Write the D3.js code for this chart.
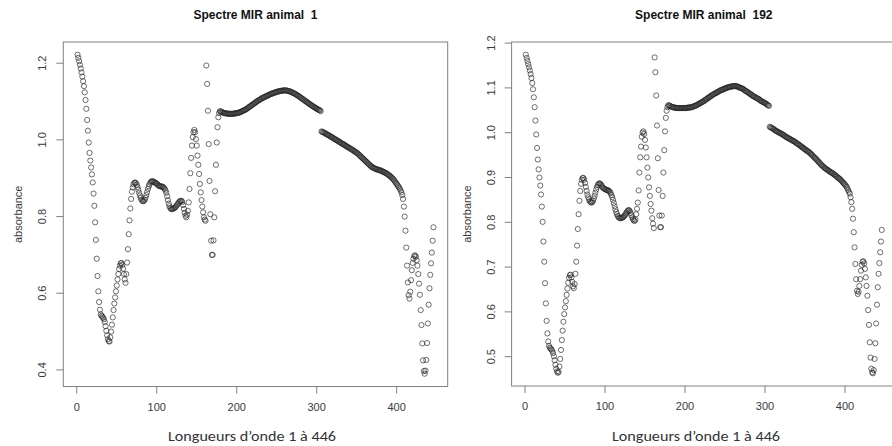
<!DOCTYPE html>
<html>
<head>
<meta charset="utf-8">
<script src="https://cdn.jsdelivr.net/npm/d3@7"></script>
<style>
  body { margin: 0; background: #fff; }
</style>
</head>
<body>
<script>
// tick values
const xTicks = [0, 100, 200, 300, 400];
const yTicks1 = [0.4, 0.6, 0.8, 1.0, 1.2];
const yTicks192 = [0.5, 0.6, 0.7, 0.8, 0.9, 1.0, 1.1, 1.2];

const titles = ["Spectre MIR animal  1", "Spectre MIR animal  192"];
const xLabel = "Longueurs d\u2019onde 1 \u00e0 446";
const yLabel = "absorbance";

// absorbance, wavelengths 1..446, animal 1
const spectre1 = [
  1.222,1.214,1.205,1.196,1.186,1.176,1.165,1.153,1.140,1.124,
  1.104,1.081,1.052,1.024,0.993,0.966,0.946,0.928,0.910,0.889,
  0.860,0.828,0.785,0.739,0.690,0.645,0.605,0.577,0.557,0.545,
  0.541,0.539,0.536,0.532,0.525,0.514,0.502,0.490,0.480,0.475,
  0.474,0.485,0.500,0.518,0.537,0.556,0.573,0.589,0.605,0.620,
  0.636,0.650,0.663,0.672,0.678,0.679,0.674,0.664,0.650,0.636,
  0.627,0.650,0.680,0.715,0.754,0.790,0.821,0.846,0.865,0.876,
  0.884,0.888,0.889,0.887,0.883,0.877,0.870,0.862,0.855,0.849,
  0.844,0.841,0.840,0.841,0.844,0.849,0.856,0.864,0.872,0.879,
  0.884,0.888,0.891,0.892,0.892,0.891,0.890,0.888,0.887,0.886,
  0.884,0.881,0.880,0.879,0.879,0.878,0.878,0.877,0.875,0.872,
  0.868,0.862,0.853,0.843,0.834,0.827,0.822,0.820,0.819,0.820,
  0.821,0.822,0.824,0.826,0.829,0.832,0.835,0.838,0.840,0.841,
  0.841,0.838,0.830,0.820,0.810,0.802,0.798,0.805,0.815,0.837,
  0.872,0.913,0.953,0.985,1.007,1.020,1.026,1.020,1.002,0.985,
  0.959,0.935,0.911,0.885,0.863,0.843,0.826,0.811,0.798,0.792,
  0.789,1.194,1.146,1.076,0.989,0.893,0.806,0.737,0.700,0.700,
  0.738,0.798,0.866,0.935,0.993,1.033,1.059,1.070,1.075,1.074,
  1.073,1.072,1.071,1.070,1.070,1.069,1.069,1.069,1.068,1.068,
  1.068,1.068,1.068,1.068,1.068,1.068,1.069,1.069,1.069,1.070,
  1.070,1.071,1.071,1.072,1.073,1.074,1.075,1.076,1.077,1.078,
  1.079,1.080,1.082,1.083,1.085,1.086,1.088,1.089,1.091,1.092,
  1.094,1.095,1.097,1.098,1.100,1.101,1.103,1.104,1.105,1.106,
  1.108,1.109,1.110,1.111,1.112,1.113,1.114,1.115,1.116,1.117,
  1.118,1.119,1.120,1.121,1.121,1.122,1.123,1.124,1.124,1.125,
  1.126,1.126,1.127,1.127,1.128,1.128,1.128,1.129,1.129,1.129,
  1.129,1.129,1.128,1.128,1.127,1.127,1.126,1.125,1.124,1.123,
  1.122,1.121,1.120,1.119,1.117,1.116,1.115,1.113,1.112,1.110,
  1.109,1.107,1.106,1.104,1.103,1.101,1.100,1.098,1.097,1.095,
  1.094,1.092,1.091,1.089,1.088,1.087,1.085,1.084,1.083,1.081,
  1.080,1.079,1.078,1.077,1.075,
  1.022,1.021,1.020,1.019,1.018,1.017,1.015,1.014,1.013,1.012,
  1.011,1.009,1.008,1.007,1.006,1.004,1.003,1.002,1.000,0.999,
  0.998,0.997,0.995,0.994,0.993,0.991,0.990,0.989,0.988,0.986,
  0.985,0.984,0.982,0.981,0.980,0.979,0.977,0.976,0.975,0.973,
  0.972,0.971,0.969,0.968,0.966,0.965,0.963,0.961,0.959,0.957,
  0.955,0.953,0.951,0.949,0.947,0.945,0.943,0.941,0.939,0.937,
  0.935,0.933,0.931,0.930,0.928,0.927,0.926,0.925,0.924,0.923,
  0.923,0.922,0.921,0.921,0.920,0.919,0.918,0.917,0.916,0.915,
  0.914,0.913,0.911,0.910,0.908,0.907,0.905,0.903,0.901,0.899,
  0.897,0.894,0.891,0.888,0.885,0.882,0.879,0.876,0.872,0.868,
  0.863,0.856,0.846,
  0.826,0.800,0.763,0.719,0.672,0.628,0.595,0.586,0.604,0.634,
  0.660,0.679,0.690,0.697,0.699,0.695,0.686,0.672,0.650,0.625,
  0.596,0.556,0.517,0.469,0.425,0.397,0.390,0.398,0.426,0.470,
  0.521,0.570,0.613,0.648,0.678,0.706,0.737,0.772
];

// absorbance, wavelengths 1..446, animal 192
const spectre192 = [
  1.174,1.167,1.160,1.153,1.146,1.139,1.131,1.122,1.111,1.097,
  1.079,1.057,1.027,0.996,0.966,0.940,0.918,0.900,0.882,0.862,
  0.835,0.801,0.757,0.712,0.664,0.619,0.580,0.552,0.534,0.524,
  0.520,0.518,0.516,0.513,0.508,0.501,0.492,0.482,0.473,0.467,
  0.464,0.466,0.478,0.495,0.515,0.537,0.558,0.578,0.595,0.610,
  0.624,0.638,0.652,0.665,0.676,0.682,0.683,0.677,0.667,0.657,
  0.653,0.662,0.685,0.712,0.748,0.785,0.818,0.848,0.870,0.886,
  0.895,0.899,0.899,0.895,0.888,0.879,0.870,0.862,0.856,0.851,
  0.847,0.845,0.844,0.845,0.848,0.853,0.859,0.866,0.873,0.879,
  0.883,0.886,0.887,0.886,0.884,0.881,0.878,0.876,0.875,0.874,
  0.873,0.872,0.872,0.871,0.870,0.868,0.865,0.861,0.856,0.850,
  0.843,0.836,0.829,0.823,0.818,0.814,0.811,0.810,0.809,0.809,
  0.810,0.811,0.812,0.814,0.816,0.819,0.822,0.825,0.827,0.827,
  0.825,0.821,0.816,0.811,0.807,0.804,0.803,0.806,0.818,0.830,
  0.844,0.871,0.911,0.945,0.969,0.991,1.000,1.003,0.997,0.984,
  0.967,0.945,0.922,0.900,0.878,0.859,0.841,0.826,0.809,0.797,
  0.787,1.168,1.135,1.083,1.016,0.943,0.872,0.815,0.789,0.789,
  0.815,0.859,0.911,0.961,1.003,1.033,1.049,1.057,1.061,1.061,
  1.060,1.059,1.058,1.057,1.057,1.056,1.056,1.056,1.055,1.055,
  1.055,1.055,1.055,1.055,1.055,1.055,1.055,1.055,1.055,1.055,
  1.055,1.055,1.056,1.056,1.056,1.056,1.057,1.057,1.057,1.058,
  1.059,1.060,1.060,1.061,1.062,1.063,1.064,1.065,1.066,1.067,
  1.068,1.069,1.070,1.071,1.073,1.074,1.075,1.076,1.078,1.079,
  1.080,1.081,1.083,1.084,1.085,1.086,1.087,1.088,1.089,1.090,
  1.091,1.092,1.093,1.094,1.095,1.096,1.096,1.097,1.098,1.099,
  1.099,1.100,1.101,1.101,1.102,1.102,1.103,1.103,1.103,1.104,
  1.104,1.104,1.104,1.104,1.103,1.103,1.102,1.101,1.100,1.100,
  1.099,1.098,1.097,1.096,1.094,1.093,1.092,1.091,1.090,1.088,
  1.087,1.086,1.085,1.083,1.082,1.081,1.080,1.079,1.078,1.077,
  1.076,1.075,1.074,1.072,1.071,1.070,1.069,1.068,1.067,1.066,
  1.065,1.064,1.062,1.061,1.060,
  1.013,1.012,1.011,1.010,1.009,1.008,1.006,1.005,1.004,1.003,
  1.002,1.001,1.000,0.999,0.998,0.997,0.996,0.995,0.994,0.992,
  0.991,0.990,0.989,0.988,0.987,0.986,0.985,0.984,0.983,0.982,
  0.981,0.980,0.979,0.977,0.976,0.975,0.974,0.972,0.971,0.970,
  0.968,0.967,0.966,0.964,0.963,0.962,0.960,0.959,0.958,0.957,
  0.955,0.953,0.952,0.950,0.948,0.946,0.944,0.943,0.941,0.939,
  0.937,0.935,0.933,0.931,0.929,0.927,0.926,0.924,0.922,0.921,
  0.920,0.918,0.917,0.916,0.915,0.913,0.912,0.911,0.910,0.909,
  0.907,0.906,0.905,0.903,0.902,0.900,0.899,0.897,0.896,0.894,
  0.892,0.890,0.888,0.886,0.884,0.882,0.879,0.876,0.872,0.868,
  0.864,0.856,0.845,
  0.830,0.808,0.778,0.744,0.707,0.673,0.647,0.640,0.645,0.658,
  0.673,0.692,0.705,0.712,0.713,0.708,0.696,0.677,0.658,0.636,
  0.604,0.571,0.532,0.498,0.473,0.465,0.463,0.470,0.495,0.530,
  0.574,0.616,0.655,0.685,0.709,0.733,0.757,0.783
];

const width = 892;
const height = 446;
const axisColor = "#808080";
const textColor = "#3a3a3a";
const rFont = "'Liberation Sans', Arial, sans-serif";

const svg = d3.select("body")
  .append("svg")
  .attr("width", width)
  .attr("height", height)
  .style("background", "#fff");

// R style limits: range stretched by 4% on each side
function rLimits([a, b]) {
  const pad = (b - a) * 0.04;
  return [a - pad, b + pad];
}

function drawPanel(values, yTicks, title, box) {
  const x = d3.scaleLinear()
    .domain(rLimits([1, values.length]))
    .range([box.left, box.right]);
  const y = d3.scaleLinear()
    .domain(rLimits(d3.extent(values)))
    .range([box.bottom, box.top]);

  const g = svg.append("g");

  // frame
  g.append("rect")
    .attr("x", box.left)
    .attr("y", box.top)
    .attr("width", box.right - box.left)
    .attr("height", box.bottom - box.top)
    .attr("fill", "none")
    .attr("stroke", axisColor)
    .attr("stroke-width", 1);

  // x axis ticks
  g.selectAll(".xtick")
    .data(xTicks)
    .join("line")
    .attr("x1", d => x(d)).attr("x2", d => x(d))
    .attr("y1", box.bottom).attr("y2", box.bottom + 7)
    .attr("stroke", axisColor);

  g.selectAll(".xlab")
    .data(xTicks)
    .join("text")
    .attr("x", d => x(d))
    .attr("y", box.bottom + 24)
    .attr("text-anchor", "middle")
    .attr("font-family", rFont)
    .attr("font-size", 11)
    .attr("fill", textColor)
    .text(d => d);

  // y axis ticks
  g.selectAll(".ytick")
    .data(yTicks)
    .join("line")
    .attr("x1", box.left - 7).attr("x2", box.left)
    .attr("y1", d => y(d)).attr("y2", d => y(d))
    .attr("stroke", axisColor);

  g.selectAll(".ylab")
    .data(yTicks)
    .join("text")
    .attr("transform", d => `translate(${box.left - 17},${y(d)}) rotate(-90)`)
    .attr("text-anchor", "middle")
    .attr("font-family", rFont)
    .attr("font-size", 11)
    .attr("fill", textColor)
    .text(d3.format(".1f"));

  // y label
  g.append("text")
    .attr("transform", `translate(${box.left - 41},${(box.top + box.bottom) / 2}) rotate(-90)`)
    .attr("text-anchor", "middle")
    .attr("font-family", rFont)
    .attr("font-size", 11)
    .attr("fill", textColor)
    .text(yLabel);

  // title
  g.append("text")
    .attr("x", (box.left + box.right) / 2)
    .attr("y", 18.5)
    .attr("text-anchor", "middle")
    .attr("font-family", rFont)
    .attr("font-weight", "bold")
    .attr("font-size", 12)
    .attr("fill", "#111")
    .style("white-space", "pre")
    .text(title);

  // points
  g.append("g")
    .selectAll("circle")
    .data(values)
    .join("circle")
    .attr("cx", (d, i) => x(i + 1))
    .attr("cy", d => y(d))
    .attr("r", 2.6)
    .attr("fill", "none")
    .attr("stroke", "#2a2a2a")
    .attr("stroke-width", 0.8)
    .attr("stroke-opacity", 0.85);

  // caption under the plot
  g.append("text")
    .attr("x", box.caption)
    .attr("y", 441)
    .attr("text-anchor", "middle")
    .attr("font-family", "Carlito, 'Open Sans', sans-serif")
    .attr("font-size", 15)
    .attr("fill", "#333")
    .attr("textLength", 168)
    .attr("lengthAdjust", "spacingAndGlyphs")
    .text(xLabel);
}

drawPanel(spectre1, yTicks1, titles[0],
  { left: 63.3, right: 447.7, top: 42, bottom: 386.5, caption: 252 });
drawPanel(spectre192, yTicks192, titles[1],
  { left: 511.6, right: 896, top: 42, bottom: 386, caption: 696 });
</script>
</body>
</html>
